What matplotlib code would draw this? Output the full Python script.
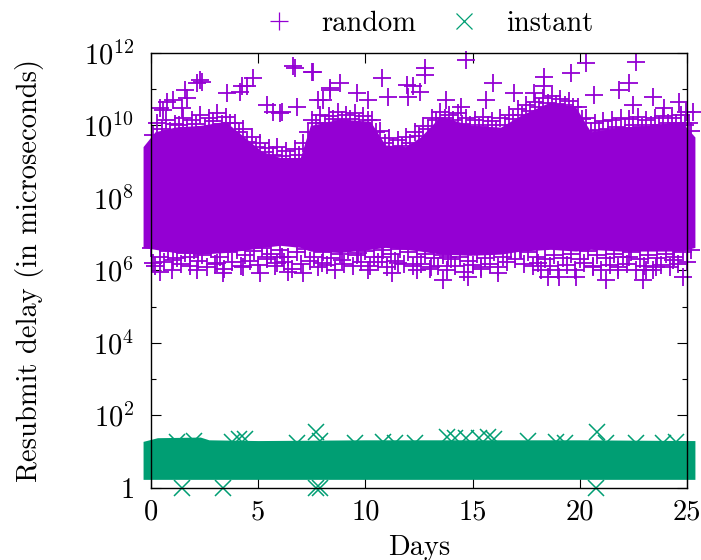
import matplotlib
matplotlib.use("Agg")
import matplotlib.pyplot as plt
from matplotlib.ticker import FixedLocator, NullFormatter

# 1. DATA --------------------------------------------------------------
# dense core of the "random" cloud: envelope per day
random_core_days = [-0.37, 0.19, 1.12, 2.29, 3.46, 4.63, 5.19, 6.03, 6.96, 7.43, 8.83,
                    10.23, 10.93, 11.87, 12.57, 13.50, 14.91, 16.31, 17.24, 18.64,
                    19.81, 20.51, 21.92, 23.32, 24.72, 25.37]
random_core_low = [4.3e6, 3.8e6, 3.1e6, 2.8e6, 3.1e6, 3.8e6, 4.3e6, 4.9e6, 4.3e6, 3.4e6,
                   3.1e6, 3.8e6, 4.3e6, 3.8e6, 3.4e6, 2.8e6, 2.6e6, 2.8e6, 3.4e6, 3.8e6,
                   3.4e6, 3.8e6, 3.4e6, 3.4e6, 3.4e6, 4.3e6]
random_core_high = [2.6e9, 6.7e9, 9.0e9, 1.0e10, 1.3e10, 3.5e9, 1.9e9, 1.3e9, 1.3e9, 1.0e10,
                    1.5e10, 1.3e10, 2.9e9, 2.6e9, 4.8e9, 1.8e10, 1.0e10, 9.0e9, 1.9e10,
                    4.5e10, 3.2e10, 6.7e9, 9.0e9, 1.0e10, 1.3e10, 4.8e9]

# markers piled on the upper edge of the cloud (two rows)
random_top_days = [0.1, 0.5, 0.9, 1.3, 1.7, 2.1, 2.5, 2.9, 3.3, 3.7, 4.1, 4.5, 4.9, 5.3,
                   5.7, 6.1, 6.5, 6.9, 7.3, 7.7, 8.1, 8.5, 8.9, 9.3, 9.7, 10.1, 10.5,
                   10.9, 11.3, 11.7, 12.1, 12.5, 12.9, 13.3, 13.7, 14.1, 14.5, 14.9,
                   15.3, 15.7, 16.1, 16.5, 16.9, 17.3, 17.7, 18.1, 18.5, 18.9, 19.3,
                   19.7, 20.1, 20.5, 20.9, 21.3, 21.7, 22.1, 22.5, 22.9, 23.3, 23.7,
                   24.1, 24.5, 24.9, 25.2]
random_top_delay = [5.5e9, 8.2e9, 6.8e9, 1.0e10, 8.6e9, 1.1e10, 9.1e9, 1.3e10, 1.1e10,
                    1.2e10, 6.4e9, 3.6e9, 2.5e9, 1.8e9, 1.5e9, 1.4e9, 1.2e9, 1.5e9,
                    6.4e9, 1.2e10, 1.2e10, 1.5e10, 1.4e10, 1.5e10, 1.2e10, 1.4e10,
                    6.4e9, 3.2e9, 2.5e9, 2.7e9, 3.2e9, 5.0e9, 8.2e9, 1.4e10, 1.6e10,
                    1.4e10, 1.1e10, 1.0e10, 9.1e9, 1.0e10, 8.2e9, 1.0e10, 1.5e10,
                    2.0e10, 2.5e10, 3.2e10, 4.1e10, 3.9e10, 3.6e10, 3.2e10, 1.5e10,
                    6.8e9, 7.3e9, 8.2e9, 9.1e9, 8.6e9, 1.0e10, 9.1e9, 1.0e10, 1.0e10,
                    1.2e10, 1.2e10, 1.0e10, 6.8e9]
random_top2_days = [0.3, 0.7, 1.1, 1.5, 1.9, 2.3, 2.7, 3.1, 3.5, 3.9, 4.3, 4.7, 5.1, 5.5,
                    5.9, 6.3, 6.7, 7.1, 7.5, 7.9, 8.3, 8.7, 9.1, 9.5, 9.9, 10.3, 10.7,
                    11.1, 11.5, 11.9, 12.3, 12.7, 13.1, 13.5, 13.9, 14.3, 14.7, 15.1,
                    15.5, 15.9, 16.3, 16.7, 17.1, 17.5, 17.9, 18.3, 18.7, 19.1, 19.5,
                    19.9, 20.3, 20.7, 21.1, 21.5, 21.9, 22.3, 22.7, 23.1, 23.5, 23.9,
                    24.3, 24.7, 25.1]
random_top2_delay = [1.2e10, 1.4e10, 1.1e10, 1.6e10, 1.4e10, 2.0e10, 1.6e10, 2.2e10,
                     1.7e10, 1.2e10, 8.0e9, 4.8e9, 3.2e9, 2.4e9, 2.6e9, 2.0e9, 2.2e9,
                     3.2e9, 1.4e10, 2.0e10, 1.8e10, 2.4e10, 2.0e10, 2.2e10, 1.8e10,
                     1.4e10, 7.2e9, 4.4e9, 4.0e9, 4.8e9, 6.4e9, 9.6e9, 1.6e10, 2.4e10,
                     2.0e10, 2.2e10, 1.6e10, 1.4e10, 1.7e10, 1.3e10, 1.6e10, 2.0e10,
                     2.8e10, 3.6e10, 4.4e10, 5.6e10, 6.4e10, 5.2e10, 4.8e10, 3.2e10,
                     1.6e10, 1.2e10, 1.3e10, 1.4e10, 1.6e10, 1.5e10, 1.7e10, 1.4e10,
                     1.6e10, 1.8e10, 1.6e10, 1.9e10, 1.2e10]

# markers piled on the lower edge of the cloud (two rows)
random_bottom_days = [0.0, 0.4, 0.8, 1.2, 1.6, 2.0, 2.4, 2.8, 3.2, 3.6, 4.0, 4.4, 4.8,
                      5.2, 5.6, 6.0, 6.4, 6.8, 7.2, 7.6, 8.0, 8.4, 8.8, 9.2, 9.6, 10.0,
                      10.4, 10.8, 11.2, 11.6, 12.0, 12.4, 12.8, 13.2, 13.6, 14.0, 14.4,
                      14.8, 15.2, 15.6, 16.0, 16.4, 16.8, 17.2, 17.6, 18.0, 18.4, 18.8,
                      19.2, 19.6, 20.0, 20.4, 20.8, 21.2, 21.6, 22.0, 22.4, 22.8, 23.2,
                      23.6, 24.0, 24.4, 24.8, 25.2]
random_bottom_delay = [4.1e6, 2.4e6, 3.4e6, 2.2e6, 3.0e6, 3.6e6, 2.6e6, 3.8e6, 2.4e6,
                       3.2e6, 3.6e6, 2.6e6, 3.4e6, 4.1e6, 2.9e6, 3.6e6, 2.4e6, 3.2e6,
                       3.8e6, 2.4e6, 3.2e6, 2.2e6, 2.9e6, 3.6e6, 2.6e6, 3.4e6, 2.4e6,
                       3.6e6, 2.9e6, 3.8e6, 3.2e6, 2.4e6, 2.9e6, 2.2e6, 2.6e6, 2.0e6,
                       2.4e6, 1.8e6, 2.9e6, 2.2e6, 3.2e6, 2.4e6, 3.6e6, 4.0e6, 3.2e6,
                       2.4e6, 2.0e6, 2.6e6, 2.2e6, 2.9e6, 2.0e6, 3.4e6, 2.6e6, 2.2e6,
                       2.9e6, 2.4e6, 3.2e6, 2.0e6, 2.6e6, 2.2e6, 2.9e6, 2.4e6, 3.2e6, 3.6e6]
random_bottom2_days = [0.2, 0.6, 1.0, 1.4, 1.8, 2.2, 2.6, 3.0, 3.4, 3.8, 4.2, 4.6, 5.0,
                       5.4, 5.8, 6.2, 6.6, 7.0, 7.4, 7.8, 8.2, 8.6, 9.0, 9.4, 9.8, 10.2,
                       10.6, 11.0, 11.4, 11.8, 12.2, 12.6, 13.0, 13.4, 13.8, 14.2, 14.6,
                       15.0, 15.4, 15.8, 16.2, 16.6, 17.0, 17.4, 17.8, 18.2, 18.6, 19.0,
                       19.4, 19.8, 20.2, 20.6, 21.0, 21.4, 21.8, 22.2, 22.6, 23.0, 23.4,
                       23.8, 24.2, 24.6, 25.0]
random_bottom2_delay = [1.3e6, 1.7e6, 1.05e6, 1.5e6, 1.3e6, 1.8e6, 1.2e6, 1.5e6, 1.1e6,
                        1.7e6, 1.3e6, 1.8e6, 1.4e6, 2.0e6, 1.3e6, 1.7e6, 1.1e6, 1.5e6,
                        1.8e6, 1.2e6, 1.4e6, 1.05e6, 1.5e6, 1.3e6, 1.75e6, 1.3e6, 1.7e6,
                        1.2e6, 1.8e6, 1.5e6, 1.3e6, 1.5e6, 1.1e6, 1.3e6, 1.0e6, 1.3e6,
                        9.1e5, 1.4e6, 1.1e6, 1.5e6, 1.2e6, 1.7e6, 2.0e6, 1.5e6, 1.3e6,
                        1.0e6, 1.3e6, 1.05e6, 1.4e6, 1.0e6, 1.6e6, 1.3e6, 1.05e6, 1.4e6,
                        1.2e6, 1.5e6, 1.0e6, 1.3e6, 1.05e6, 1.4e6, 1.2e6, 1.5e6, 1.7e6]

# isolated outliers of the "random" series
random_out_days = [4.77, 2.29, 2.15, 1.59, 3.55, 4.25, 1.03, 0.56, 6.03, 5.42, 6.64,
                   7.52, 8.36, 8.04, 8.83, 2.38, 1.68, 4.16, 4.49, 0.75, 0.42, 1.45,
                   5.70, 6.73, 7.57, 6.12, 6.82, 10.79, 11.96, 8.36, 9.63, 11.07, 12.01,
                   7.80, 10.14, 12.80, 12.80, 14.67, 15.93, 12.57, 12.24, 13.74, 15.61,
                   16.92, 18.32, 18.32, 17.85, 14.44, 22.62, 20.28, 19.58, 22.29, 21.82,
                   23.41, 20.65, 24.63, 22.48, 23.93, 24.95, 25.28,
                   0.42, 0.09, 2.15, 3.36, 4.30, 5.09, 5.89, 3.08, 1.03, 5.42, 1.82,
                   6.40, 7.10, 7.99, 8.93, 10.14, 11.26, 11.54, 9.67, 6.12, 10.79,
                   12.43, 13.60, 14.77, 15.37, 16.17, 13.83, 17.24, 18.04, 18.50, 13.04,
                   19.02, 19.81, 20.61, 21.78, 22.94, 23.55, 24.35, 24.81, 22.29, 21.21,
                   23.08]
random_out_delay = [2.1e11, 1.8e11, 1.5e11, 9.7e10, 8.0e10, 1.2e11, 5.1e10, 2.7e10,
                    2.2e10, 3.7e10, 4.5e11, 3.0e11, 9.7e10, 5.1e10, 1.5e11, 1.6e11,
                    5.8e10, 8.5e10, 1.2e11, 4.5e10, 3.1e10, 3.1e10, 2.4e10, 3.9e11,
                    3.0e11, 2.4e10, 3.2e10, 2.1e11, 1.3e11, 1.1e11, 8.0e10, 6.2e10,
                    6.2e10, 5.1e10, 5.1e10, 3.9e11, 2.5e11, 6.5e11, 1.5e11, 8.5e10,
                    1.2e11, 5.1e10, 5.1e10, 8.0e10, 2.2e11, 1.2e11, 8.0e10, 3.2e10,
                    5.7e11, 5.4e11, 2.8e11, 1.5e11, 9.7e10, 6.2e10, 7.1e10, 4.5e10,
                    3.7e10, 3.1e10, 2.4e10, 2.4e10,
                    9.0e5, 1.6e6, 1.0e6, 8.5e5, 1.2e6, 8.5e5, 1.6e6, 1.6e6, 1.9e6,
                    2.3e6, 2.3e6, 9.0e5, 8.5e5, 1.6e6, 1.9e6, 1.0e6, 8.5e5, 1.6e6,
                    3.0e6, 2.3e6, 2.3e6, 1.0e6, 5.5e5, 6.6e5, 1.2e6, 8.5e5, 2.3e6,
                    3.7e6, 1.6e6, 6.6e5, 1.2e6, 6.6e5, 6.6e5, 1.2e6, 1.0e6, 5.5e5,
                    1.2e6, 1.9e6, 6.6e5, 2.3e6, 5.5e5, 1.0e6]

# dense band of the "instant" series
instant_core_days = [-0.37, 0.3, 2.3, 2.7, 5.0, 10.0, 15.0, 20.0, 25.37]
instant_core_low = [1.7, 1.7, 1.7, 1.7, 1.7, 1.7, 1.7, 1.7, 1.7]
instant_core_high = [19, 24, 25, 21, 20, 21, 21, 21, 20]

# isolated "instant" points
instant_days = [4.1, 4.4, 3.8, 7.7, 7.9, 6.8, 10.8, 11.4, 13.8, 14.2, 14.7, 15.3, 15.7,
                16.0, 17.6, 18.9, 19.3, 20.8, 21.2, 23.9, 24.5, 1.2, 2.0, 12.3, 9.5,
                22.6, 1.45, 3.36, 7.7, 7.9, 20.75]
instant_delay = [22, 22, 18, 34, 20, 17, 18, 17, 25, 24, 24, 24, 25, 22, 19, 18, 17, 34,
                 17, 17, 18, 18, 19, 17, 17, 17, 1.0, 1.0, 1.0, 1.0, 1.0]

xticks = [0, 5, 10, 15, 20, 25]
yticks = [1, 1e2, 1e4, 1e6, 1e8, 1e10, 1e12]
ytick_labels = ["$1$", "$10^{2}$", "$10^{4}$", "$10^{6}$", "$10^{8}$", "$10^{10}$", "$10^{12}$"]
yminor = [1e1, 1e3, 1e5, 1e7, 1e9, 1e11]

PURPLE = "#9400d3"
GREEN = "#009e73"
FS = 20.5

# 2. STYLE ------------------------------------------------------------
plt.rcParams["font.family"] = "cmr10"
plt.rcParams["mathtext.fontset"] = "cm"
plt.rcParams["axes.formatter.use_mathtext"] = True

# 3. PLOT -------------------------------------------------------------
fig = plt.figure(figsize=(7.01, 5.60), dpi=100)
ax = fig.add_axes([0.2154, 0.1291, 0.7646, 0.7763])

ax.fill_between(random_core_days, random_core_low, random_core_high,
                color=PURPLE, lw=0, clip_on=False, zorder=2)
mk = dict(ls="none", ms=12.5, mew=1.3, clip_on=False, zorder=3)
h1, = ax.plot(random_top_days, random_top_delay, "+", color=PURPLE, label="random", **mk)
ax.plot(random_top2_days, random_top2_delay, "+", color=PURPLE, **mk)
ax.plot(random_bottom_days, random_bottom_delay, "+", color=PURPLE, **mk)
ax.plot(random_bottom2_days, random_bottom2_delay, "+", color=PURPLE, **mk)
ax.plot(random_out_days, random_out_delay, "+", color=PURPLE, **mk)

ax.fill_between(instant_core_days, instant_core_low, instant_core_high,
                color=GREEN, lw=0, clip_on=False, zorder=2)
h2, = ax.plot(instant_days, instant_delay, "x", color=GREEN, label="instant",
              ls="none", ms=12, mew=1.1, clip_on=False, zorder=3)

ax.set_yscale("log")
ax.set_xlim(0, 25)
ax.set_ylim(1, 1e12)
ax.set_xticks(xticks)
ax.set_xticklabels([str(t) for t in xticks])
ax.yaxis.set_major_locator(FixedLocator(yticks))
ax.set_yticklabels(ytick_labels)
ax.yaxis.set_minor_locator(FixedLocator(yminor))
ax.yaxis.set_minor_formatter(NullFormatter())

ax.tick_params(which="both", direction="in", top=True, right=True, labelsize=FS)
ax.tick_params(which="major", length=7, width=0.8)
ax.tick_params(which="minor", length=3.5, width=0.8)
ax.tick_params(axis="x", pad=8)
ax.tick_params(axis="y", pad=12)
for s in ax.spines.values():
    s.set_linewidth(1.0)
    s.set_zorder(5)

ax.set_xlabel("Days", fontsize=FS)
ax.xaxis.set_label_coords(0.5, -0.108)
ax.xaxis.label.set_va("top")
ax.set_ylabel("Resubmit delay (in microseconds)", fontsize=FS)
ax.yaxis.set_label_coords(-0.20, 0.5)

leg = ax.legend(handles=[h1, h2], loc="center", bbox_to_anchor=(0.519, 1.067), ncol=2,
                frameon=False, fontsize=FS, handlelength=1.0, handletextpad=1.0,
                columnspacing=1.15, numpoints=1)
for h in leg.legend_handles:
    h.set_markeredgewidth(0.9)

fig.savefig("out.png", dpi=100)
print("written out.png")
